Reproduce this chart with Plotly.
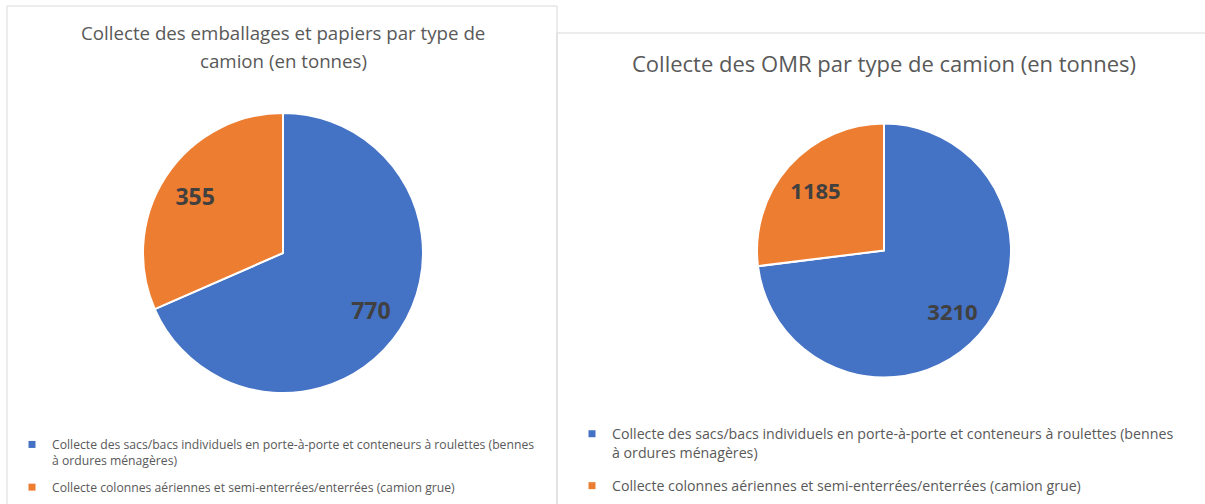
import plotly.graph_objects as go

# ---- data ----
categories = [
    "Collecte des sacs/bacs individuels en porte-à-porte et conteneurs à roulettes (bennes<br>à ordures ménagères)",
    "Collecte colonnes aériennes et semi-enterrées/enterrées (camion grue)",
]
emballages_values = [770, 355]
omr_values = [3210, 1185]
title_left_lines = ["Collecte des emballages et papiers par type de", "camion (en tonnes)"]
title_right = "Collecte des OMR par type de camion (en tonnes)"
colors = ["#4472C4", "#ED7D31"]

W, H = 1205, 504
FONT = "Open Sans"


def px(x):
    return x / W


def py(y):
    return 1 - y / H


dom_left = dict(x=[px(143), px(423)], y=[py(393), py(113)])
dom_right = dict(x=[px(757), px(1011)], y=[py(378), py(123)])

fig = go.Figure()

# pies
fig.add_trace(go.Pie(
    labels=categories, values=emballages_values, sort=False, direction="clockwise",
    rotation=0, marker=dict(colors=colors, line=dict(color="white", width=2)),
    textinfo="none", domain=dom_left, showlegend=False, hoverinfo="label+value",
))
fig.add_trace(go.Pie(
    labels=categories, values=omr_values, sort=False, direction="clockwise",
    rotation=0, marker=dict(colors=colors, line=dict(color="white", width=2)),
    textinfo="none", domain=dom_right, showlegend=False, hoverinfo="label+value",
))

# transparent ring overlays carrying the value labels (placed in the outer ring)
fig.add_trace(go.Pie(
    labels=categories, values=emballages_values, sort=False, direction="clockwise",
    rotation=0, hole=0.5,
    marker=dict(colors=["rgba(0,0,0,0)"] * 2, line=dict(width=0)),
    textinfo="value", textposition="inside", insidetextorientation="horizontal",
    textfont=dict(family=FONT, size=23, color="#404040", weight="bold"),
    domain=dom_left, showlegend=False, hoverinfo="skip",
))
fig.add_trace(go.Pie(
    labels=categories, values=omr_values, sort=False, direction="clockwise",
    rotation=0, hole=0.44,
    marker=dict(colors=["rgba(0,0,0,0)"] * 2, line=dict(width=0)),
    textinfo="value", textposition="inside", insidetextorientation="horizontal",
    textfont=dict(family=FONT, size=22, color="#404040", weight="bold"),
    domain=dom_right, showlegend=False, hoverinfo="skip",
))

# legend entries (small square keys), one legend per chart
for legend_name, prefix in (("legend", "l"), ("legend2", "r")):
    for i, (cat, col) in enumerate(zip(categories, colors)):
        fig.add_trace(go.Scatter(
            x=[None], y=[None], mode="markers", name=cat,
            marker=dict(symbol="square", size=7, color=col),
            legend=legend_name, legendgroup=f"{prefix}{i}", showlegend=True,
            hoverinfo="skip",
        ))

# panel borders
fig.add_shape(type="rect", xref="paper", yref="paper",
              x0=px(7), x1=px(557), y0=py(520), y1=py(6),
              line=dict(color="#D9D9D9", width=1), fillcolor="rgba(0,0,0,0)", layer="below")
fig.add_shape(type="rect", xref="paper", yref="paper",
              x0=px(557), x1=px(1215), y0=py(520), y1=py(33),
              line=dict(color="#D9D9D9", width=1), fillcolor="rgba(0,0,0,0)", layer="below")

for line_text, ly in zip(title_left_lines, (33, 60)):
    fig.add_annotation(text=line_text, x=px(283), y=py(ly), xref="paper", yref="paper",
                       showarrow=False, xanchor="center", yanchor="middle",
                       font=dict(family=FONT, size=18.7, color="#595959"))
fig.add_annotation(text=title_right, x=px(884), y=py(63), xref="paper", yref="paper",
                   showarrow=False, xanchor="center", yanchor="middle",
                   font=dict(family=FONT, size=22, color="#595959"))

fig.update_layout(
    width=W, height=H,
    margin=dict(l=0, r=0, t=0, b=0),
    paper_bgcolor="white", plot_bgcolor="white",
    xaxis=dict(visible=False), yaxis=dict(visible=False),
    legend=dict(x=px(12), y=py(430), xanchor="left", yanchor="top",
                font=dict(family=FONT, size=12.2, color="#595959"),
                bgcolor="rgba(0,0,0,0)", valign="top", traceorder="grouped",
                tracegroupgap=8, itemclick=False, itemdoubleclick=False),
    legend2=dict(x=px(572), y=py(418), xanchor="left", yanchor="top",
                 font=dict(family=FONT, size=14.2, color="#595959"),
                 bgcolor="rgba(0,0,0,0)", valign="top", traceorder="grouped",
                 tracegroupgap=12, itemclick=False, itemdoubleclick=False),
)

fig.write_html("out.html", config={"displayModeBar": False},
               post_script="document.body.style.margin='0';document.body.style.overflow='hidden';")
